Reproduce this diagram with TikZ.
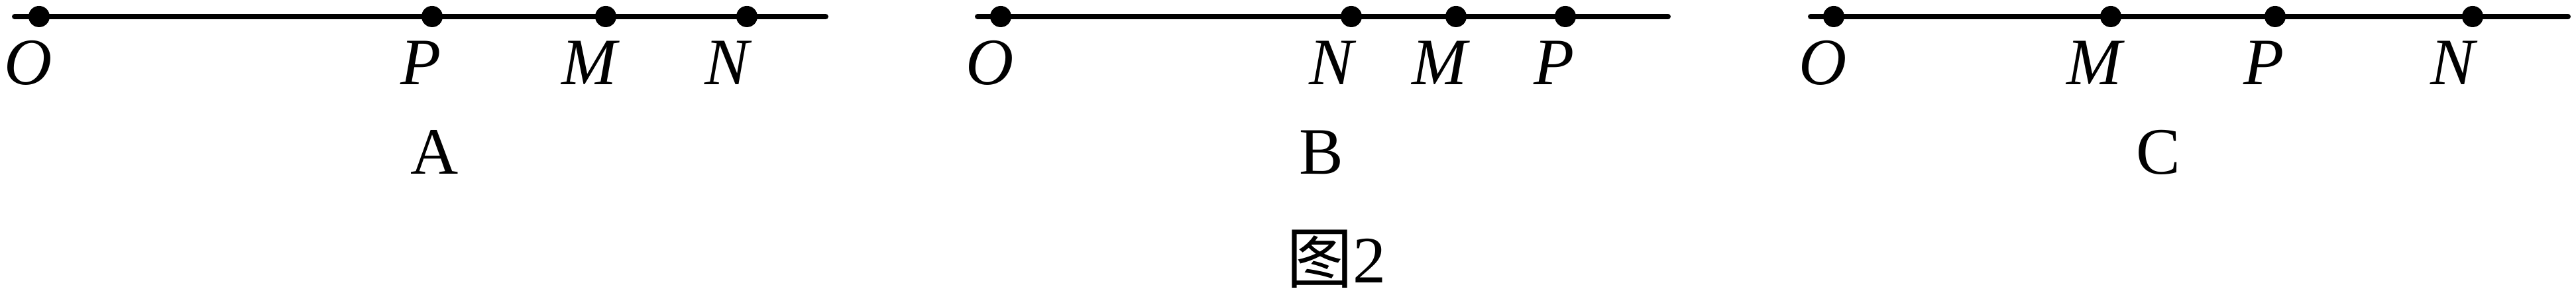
\documentclass[tikz,border=0pt]{standalone}
\usepackage{fontspec}
\setmainfont{Liberation Serif}
\newfontfamily\cjkfont{Noto Sans CJK SC}
\tikzset{
    dot/.style={circle, fill=black, inner sep=0pt, minimum size=3.2pt},
    ptname/.style={anchor=base, inner sep=0pt, font=\itshape},
    capname/.style={anchor=base, inner sep=0pt}
}
\begin{document}
\begin{tikzpicture}[x=1pt, y=1pt]
                \useasboundingbox (0, 0) rectangle (388.7, -44.5);
                % A
                \coordinate (aL) at (2.2, -2.5);
                \coordinate (aR) at (124.6, -2.5);
                \draw [line width=0.8pt, line cap=round] (aL) -- (aR);
                \node [dot] (aO) at (5.9, -2.5) {};
                \node [dot] (aP) at (65.2, -2.5) {};
                \node [dot] (aM) at (91.4, -2.5) {};
                \node [dot] (aN) at (112.7, -2.5) {};
                \node [ptname] (aOl) at (4.3, -12.8) {O};
                \node [ptname] (aPl) at (63.5, -12.8) {P};
                \node [ptname] (aMl) at (88.9, -12.8) {M};
                \node [ptname] (aNl) at (109.7, -12.8) {N};
                \node [capname] (capA) at (65.6, -26.3) {A};
                % B
                \coordinate (bL) at (147.5, -2.5);
                \coordinate (bR) at (251.7, -2.5);
                \draw [line width=0.8pt, line cap=round] (bL) -- (bR);
                \node [dot] (bO) at (151.0, -2.5) {};
                \node [dot] (bN) at (203.9, -2.5) {};
                \node [dot] (bM) at (219.7, -2.5) {};
                \node [dot] (bP) at (236.2, -2.5) {};
                \node [ptname] (bOl) at (149.4, -12.8) {O};
                \node [ptname] (bNl) at (200.9, -12.8) {N};
                \node [ptname] (bMl) at (217.2, -12.8) {M};
                \node [ptname] (bPl) at (234.5, -12.8) {P};
                \node [capname] (capB) at (199.4, -26.3) {B};
                % C
                \coordinate (cL) at (273.2, -2.5);
                \coordinate (cR) at (387.5, -2.5);
                \draw [line width=0.8pt, line cap=round] (cL) -- (cR);
                \node [dot] (cO) at (276.7, -2.5) {};
                \node [dot] (cM) at (318.5, -2.5) {};
                \node [dot] (cP) at (343.3, -2.5) {};
                \node [dot] (cN) at (373.1, -2.5) {};
                \node [ptname] (cOl) at (275.1, -12.8) {O};
                \node [ptname] (cMl) at (316.0, -12.8) {M};
                \node [ptname] (cPl) at (341.6, -12.8) {P};
                \node [ptname] (cNl) at (370.1, -12.8) {N};
                \node [capname] (capC) at (325.7, -26.3) {C};
                % caption
                \node [capname] (fig) at (201.6, -42.7) {{\cjkfont 图}2};
            \end{tikzpicture}
\end{document}
